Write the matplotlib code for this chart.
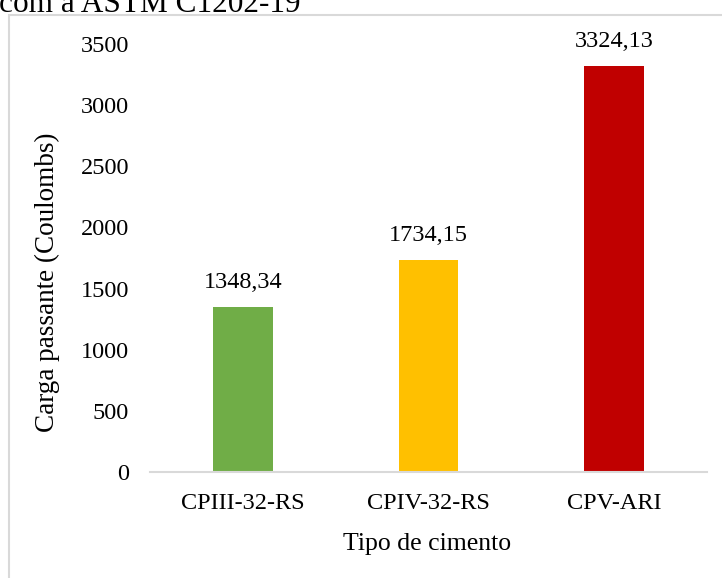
import matplotlib
matplotlib.use("Agg")
import matplotlib.pyplot as plt
from matplotlib.patches import Rectangle

categories = ["CPIII-32-RS", "CPIV-32-RS", "CPV-ARI"]
values = [1348.34, 1734.15, 3324.13]
value_labels = ["1348,34", "1734,15", "3324,13"]
colors = ["#70AD47", "#FFC000", "#C00000"]
yticks = [0, 500, 1000, 1500, 2000, 2500, 3000, 3500]

plt.rcParams['font.family'] = ['Liberation Serif', 'DejaVu Serif']

W, H = 722, 578
fig = plt.figure(figsize=(W / 100, H / 100), dpi=100)

# chart frame (partially off canvas)
fig.patches.append(Rectangle((9 / W, -0.1), 1.2, (H - 15) / H + 0.1,
                             transform=fig.transFigure, fill=False,
                             edgecolor="#d9d9d9", linewidth=1.5))
# cut-off caption above
fig.text(-1 / W, 1 - 11.5 / H, "com a ASTM C1202-19", fontsize=22.5,
         ha="left", va="baseline", color="black")

ax = fig.add_axes([150 / W, (H - 472) / H, (707 - 150) / W, (472 - 44) / H])
x = range(len(categories))
bars = ax.bar(x, values, width=0.32, color=colors)
ax.set_xlim(-0.5, len(categories) - 0.5)
ax.set_ylim(0, 3500)
ax.set_yticks(yticks)
ax.set_yticklabels([str(t) for t in yticks], fontsize=17.5)
ax.set_xticks(list(x))
ax.set_xticklabels(categories, fontsize=17.5)
ax.tick_params(axis="both", length=0)
ax.tick_params(axis="y", pad=15)
ax.tick_params(axis="x", pad=15)
for s in ["top", "right", "left"]:
    ax.spines[s].set_visible(False)
ax.spines["bottom"].set_color("#d9d9d9")
ax.spines["bottom"].set_linewidth(1.5)

for b, lab in zip(bars, value_labels):
    ax.annotate(lab, (b.get_x() + b.get_width() / 2, b.get_height()),
                xytext=(0, 10), textcoords="offset points",
                ha="center", va="bottom", fontsize=17.5)

ax.set_xlabel("Tipo de cimento", fontsize=18.5)
ax.xaxis.set_label_coords(0.497, -0.143)
ax.set_ylabel("Carga passante (Coulombs)", fontsize=19.5)
ax.yaxis.set_label_coords(-0.162, 0.444)

fig.savefig("out.png", dpi=100)
